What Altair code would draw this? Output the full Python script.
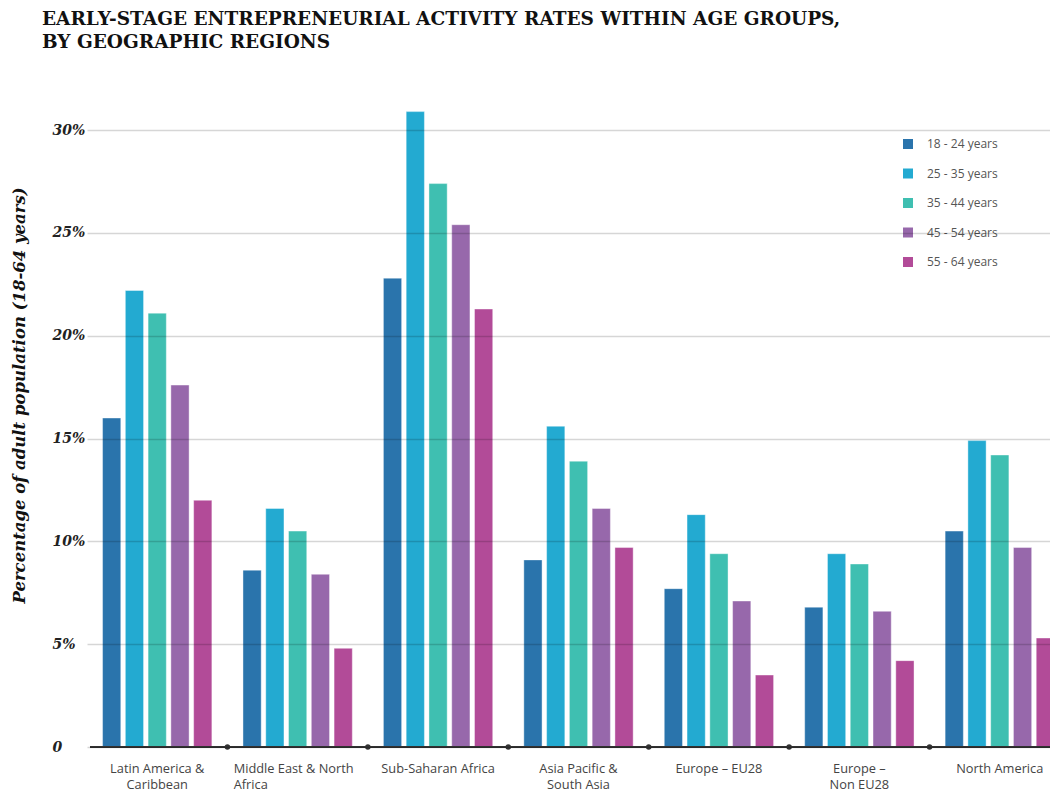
import altair as alt
import pandas as pd

# Regions ("|" marks a line break in the axis label)
regions = [
    "Latin America &|Caribbean",
    "Middle East & North|Africa",
    "Sub-Saharan Africa",
    "Asia Pacific &|South Asia",
    "Europe \u2013 EU28",
    "Europe \u2013|Non EU28",
    "North America",
]
age_groups = ["18 - 24 years", "25 - 35 years", "35 - 44 years", "45 - 54 years", "55 - 64 years"]
age_colors = ["#2a74ac", "#23aad1", "#3fbfb1", "#9768ab", "#b24b98"]

# TEA rates (% of adult population) per age group, one value per region
rate_18_24 = [16.0, 8.6, 22.8, 9.1, 7.7, 6.8, 10.5]
rate_25_35 = [22.2, 11.6, 30.9, 15.6, 11.3, 9.4, 14.9]
rate_35_44 = [21.1, 10.5, 27.4, 13.9, 9.4, 8.9, 14.2]
rate_45_54 = [17.6, 8.4, 25.4, 11.6, 7.1, 6.6, 9.7]
rate_55_64 = [12.0, 4.8, 21.3, 9.7, 3.5, 4.2, 5.3]

y_ticks = [0, 5, 10, 15, 20, 25, 30]

series = [rate_18_24, rate_25_35, rate_35_44, rate_45_54, rate_55_64]
rows = []
for age, vals in zip(age_groups, series):
    for reg, v in zip(regions, vals):
        rows.append({"region": reg, "age": age, "value": v})
df = pd.DataFrame(rows)
sep_df = pd.DataFrame({"region": regions[1:]})

W, H = 963, 658

x_scale = alt.Scale(domain=regions, range=[0, 983], paddingInner=0, paddingOuter=0)
y_scale = alt.Scale(domain=[0, 32], nice=False)

# the two-line Middle East label is set flush left
left_label = "indexof(datum.label, 'Middle') >= 0"

bars = alt.Chart(df).mark_bar(stroke="white", strokeWidth=0.8, strokeOpacity=0.5).encode(
    x=alt.X("region:N", sort=regions, scale=x_scale,
            axis=alt.Axis(title=None, domain=False, ticks=False, labelAngle=0,
                          labelExpr="split(datum.label, '|')",
                          labelAlign={"condition": {"test": left_label, "value": "left"},
                                      "value": "center"},
                          labelOffset={"condition": {"test": left_label, "value": -64},
                                       "value": 0},
                          labelFont="Open Sans", labelFontSize=12.8, labelColor="#444",
                          labelLineHeight=16, labelPadding=15, labelBaseline="top")),
    xOffset=alt.XOffset("age:N", sort=age_groups,
                        scale=alt.Scale(paddingInner=0.2, paddingOuter=0.683)),
    y=alt.Y("value:Q", scale=y_scale,
            axis=alt.Axis(values=y_ticks, zindex=1, domain=False, ticks=False,
                          labelExpr="datum.value == 0 ? '0' : datum.value + '%'",
                          labelAlign="left", labelPadding=35, labelBaseline="middle",
                          labelFont="DejaVu Serif", labelFontStyle="italic",
                          labelFontWeight="bold", labelFontSize=14, labelColor="#222",
                          gridColor="#000", gridOpacity=0.16, gridWidth=1.6,
                          title="Percentage of adult population (18-64 years)",
                          titleFont="DejaVu Serif", titleFontStyle="italic",
                          titleFontWeight="bold", titleFontSize=16.5, titleColor="#111",
                          titleAngle=270, titleAlign="center", titleBaseline="middle",
                          titleX=-68, titleY=306)),
    color=alt.Color("age:N", sort=age_groups,
                    scale=alt.Scale(domain=age_groups, range=age_colors),
                    legend=alt.Legend(title=None, orient="none", legendX=815, legendY=49,
                                      symbolType="square", symbolSize=100,
                                      symbolStrokeWidth=0, labelOffset=13,
                                      labelFont="Open Sans", labelFontSize=12,
                                      labelColor="#555", rowPadding=17.5)),
)

baseline = alt.Chart(df).mark_rule(color="#333", strokeWidth=2).encode(
    x=alt.value(3), x2=alt.value(W), y=alt.datum(0, scale=y_scale)
)

separators = alt.Chart(sep_df).mark_circle(color="#333", size=30, opacity=1).encode(
    x=alt.X("region:N", sort=regions, bandPosition=0, scale=x_scale),
    y=alt.datum(0),
)

chart = alt.layer(bars, baseline, separators).properties(
    width=W,
    height=H,
    background="white",
    autosize=alt.AutoSizeParams(type="none"),
    padding={"left": 87, "top": 89, "right": 0, "bottom": 45},
    title=alt.TitleParams(
        text=["EARLY-STAGE ENTREPRENEURIAL ACTIVITY RATES WITHIN AGE GROUPS,",
              "BY GEOGRAPHIC REGIONS"],
        anchor="start", frame="group", dx=-45, offset=38,
        font="DejaVu Serif", fontSize=18.5, fontWeight="bold", color="#111",
        lineHeight=22.5,
    ),
).configure_view(strokeWidth=0, stroke="transparent")

chart.save("out.html", embed_options={"renderer": "svg", "actions": False})
